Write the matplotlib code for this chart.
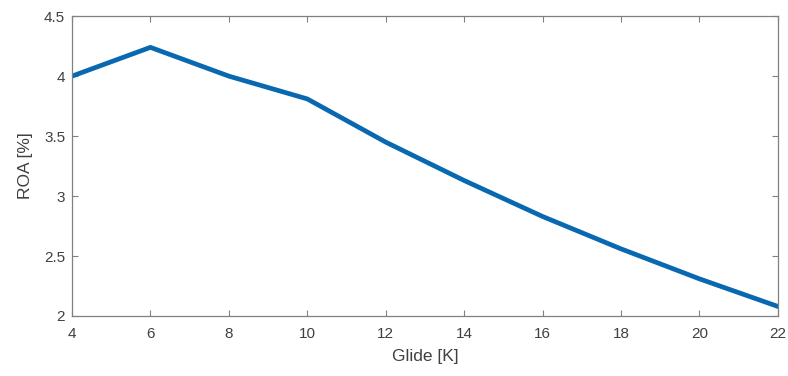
import matplotlib
matplotlib.use('Agg')
from matplotlib import pyplot as plt

plt.rcParams['font.family'] = ['Liberation Sans', 'DejaVu Sans']

glide = [4, 6, 8, 10, 12, 14, 16, 18, 20, 22]
roa = [4.0, 4.24, 4.0, 3.81, 3.45, 3.13, 2.83, 2.56, 2.31, 2.08]
xticks = [4, 6, 8, 10, 12, 14, 16, 18, 20, 22]
yticks = [2, 2.5, 3, 3.5, 4, 4.5]
ytick_labels = ['2', '2.5', '3', '3.5', '4', '4.5']

fig = plt.figure(figsize=(7.88, 3.76), dpi=100)
ax = fig.add_axes([0.0914, 0.1596, 0.8956, 0.7974])
ax.plot(glide, roa, color='#0868b0', linewidth=3.4, solid_joinstyle='round')

ax.set_xlim(4, 22)
ax.set_ylim(2, 4.5)
ax.set_xticks(xticks)
ax.set_yticks(yticks)
ax.set_yticklabels(ytick_labels)

edge = '#808080'
for s in ax.spines.values():
    s.set_color(edge)
    s.set_linewidth(0.9)
ax.tick_params(direction='in', top=True, right=True, length=4, width=0.8,
               color=edge, labelcolor='#404040', labelsize=11)
ax.tick_params(axis='x', pad=8)
ax.tick_params(axis='y', pad=5)

ax.set_xlabel('Glide [K]', fontsize=12.5, color='#404040', labelpad=6)
ax.set_ylabel('ROA [%]', fontsize=12.5, color='#404040', labelpad=8)

plt.savefig('out.png', dpi=100)
